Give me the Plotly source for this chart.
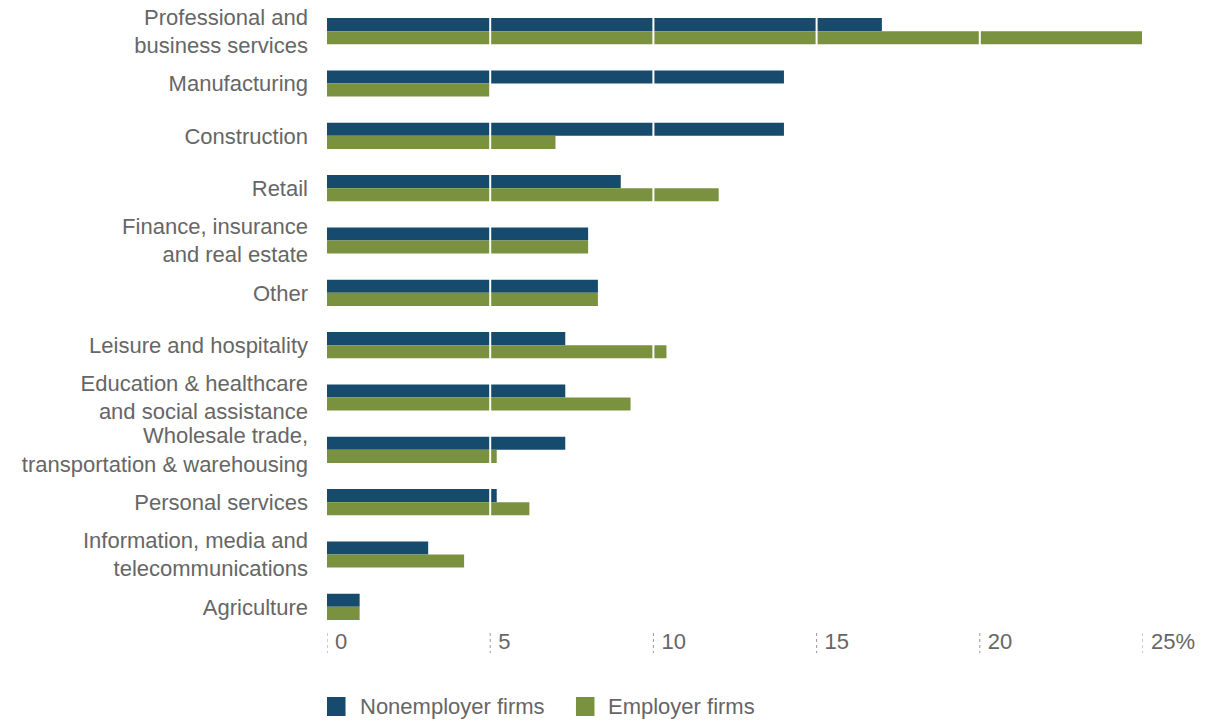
import plotly.graph_objects as go

# Share of firms by industry (%)
industries = [
    "Professional and<br>business services",
    "Manufacturing",
    "Construction",
    "Retail",
    "Finance, insurance<br>and real estate",
    "Other",
    "Leisure and hospitality",
    "Education & healthcare<br>and social assistance",
    "Wholesale trade,<br>transportation & warehousing",
    "Personal services",
    "Information, media and<br>telecommunications",
    "Agriculture",
]
nonemployer = [17.0, 14.0, 14.0, 9.0, 8.0, 8.3, 7.3, 7.3, 7.3, 5.2, 3.1, 1.0]
employer = [25.0, 5.0, 7.0, 12.0, 8.0, 8.3, 10.4, 9.3, 5.2, 6.2, 4.2, 1.0]

x_ticks = [0, 5, 10, 15, 20, 25]
x_tick_labels = ["0", "5", "10", "15", "20", "25%"]

series_names = ["Nonemployer firms", "Employer firms"]
colors = ["#174B6E", "#7A913F"]
text_color = "#666666"
font_family = "Arial, Liberation Sans, Helvetica, sans-serif"

fig = go.Figure()
for name, values, color in zip(series_names, [nonemployer, employer], colors):
    fig.add_trace(go.Bar(
        y=industries,
        x=values,
        name=name,
        orientation="h",
        marker=dict(color=color, line=dict(width=0)),
        showlegend=False,
    ))

for t in x_ticks:
    # white gridlines drawn over the bars
    if t > 0:
        fig.add_shape(
            type="line", xref="x", yref="paper", layer="above",
            x0=t, x1=t, y0=0, y1=1,
            line=dict(color="white", width=2),
        )
    # dotted tick marks below the plot area
    fig.add_shape(
        type="line", xref="x", yref="paper",
        x0=t, x1=t, y0=0, y1=-0.032,
        line=dict(color="#999999", width=1, dash="dot"),
    )

# legend swatches and labels
legend_items = [
    (series_names[0], colors[0], 0.0, 0.0380),
    (series_names[1], colors[1], 0.3051, 0.3420),
]
for name, color, sx, tx in legend_items:
    fig.add_shape(
        type="rect", xref="paper", yref="paper",
        x0=sx, x1=sx + 0.0227, y0=-0.1322, y1=-0.1019,
        fillcolor=color, line=dict(width=0),
    )
    fig.add_annotation(
        xref="paper", yref="paper", x=tx, y=-0.1170,
        xanchor="left", yanchor="middle", showarrow=False,
        text=name, font=dict(size=22, color=text_color, family=font_family),
    )

fig.update_layout(
    width=1205,
    height=721,
    margin=dict(l=327, r=62, t=5, b=88),
    paper_bgcolor="white",
    plot_bgcolor="white",
    barmode="group",
    bargap=0.5,
    bargroupgap=0,
    font=dict(family=font_family, size=22, color=text_color),
    showlegend=False,
)

fig.update_xaxes(
    range=[0, 25],
    tickvals=x_ticks,
    ticktext=x_tick_labels,
    ticklabelposition="outside right",
    ticklabelshift=8,
    ticklabelstandoff=-7,
    ticks="",
    showline=False,
    showgrid=False,
    zeroline=False,
    tickfont=dict(size=22, color=text_color),
    fixedrange=True,
)

fig.update_yaxes(
    autorange="reversed",
    ticks="",
    showline=False,
    showgrid=False,
    ticklabelstandoff=18,
    tickfont=dict(size=22, color=text_color),
    fixedrange=True,
)

fig.write_html("out.html")
